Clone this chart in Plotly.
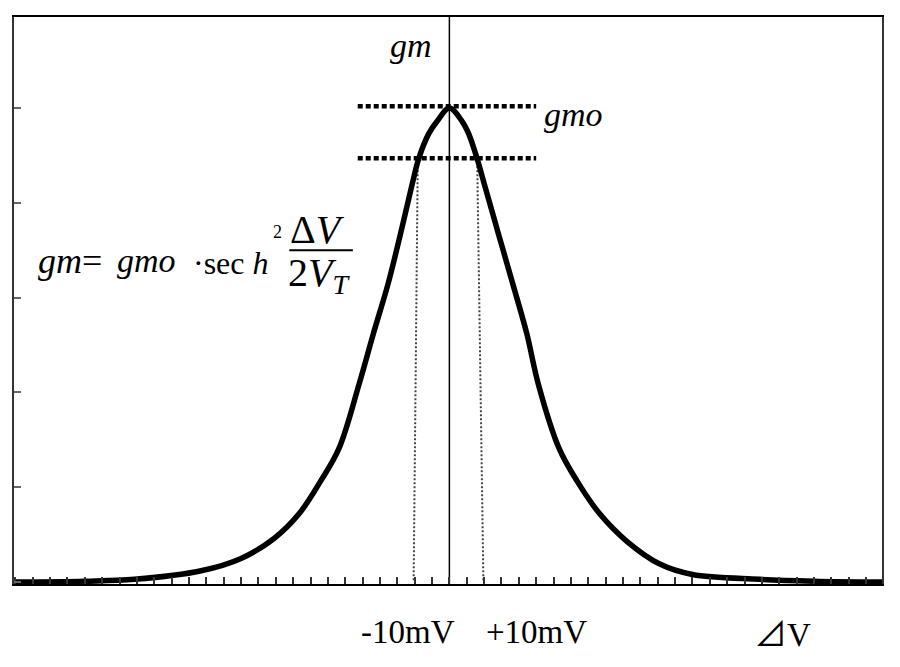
"""
gm - ΔV 특성 곡선 (차동 증폭기 트랜스컨덕턴스)
"""

import plotly.graph_objects as go

# ============================================================================
# 데이터 준비
# ============================================================================
# 곡선 위의 점들 (ΔV [mV], gm [임의 단위]) - 그림에서 읽은 값
dv_mv = [-125.4, -105, -90.7, -71.5, -60.0, -50.5, -43.3, -37.0, -31.8,
         -26.0, -21.9, -17.7, -14.1, -10.7, -8.81, -5.94, -3.53, 0,
         3.65, 5.54, 7.95, 10.05, 14.15, 18.3, 22.3, 25.6,
         31.6, 36.7, 43.3, 51.1, 60.6, 70.0, 89.3, 105, 124.6]
gm_val = [0.0, 0.01, 0.03, 0.12, 0.25, 0.46, 0.72, 1.07, 1.41,
          2.09, 2.62, 3.14, 3.67, 4.20, 4.47, 4.73, 4.86, 5.0,
          4.86, 4.73, 4.47, 4.20, 3.67, 3.14, 2.62, 2.09,
          1.41, 1.07, 0.72, 0.43, 0.19, 0.08, 0.03, 0.01, 0.0]

# 점선 기준선 (gmo, ±10mV 에서의 gm)
ref_levels = [5.02, 4.47]
ref_span = [-26.4, 25.0]

# ±10mV 점선 (위 끝, 아래 끝)
vline_top_x = [-9.1, 8.0]
vline_bottom_x = [-10.3, 9.8]
vline_top_y = 4.47

# 눈금 라벨
tick_labels = ['-10mV', '+10mV']
tick_label_x = [-11.8, 25.0]

SERIF = 'Liberation Serif, Times New Roman, serif'

# ============================================================================
# 차트 생성
# ============================================================================
fig = go.Figure()

# 가운데 세로축 (gm 축)
fig.add_trace(go.Scatter(
    x=[0, 0], y=[-0.02, 5.96], mode='lines',
    line=dict(color='black', width=1.5), hoverinfo='skip', showlegend=False,
))

# ±10mV 세로 점선
for xt, xb in zip(vline_top_x, vline_bottom_x):
    fig.add_trace(go.Scatter(
        x=[xt, xb], y=[vline_top_y, 0], mode='lines',
        line=dict(color='#444444', width=2, dash='2px,2px'),
        hoverinfo='skip', showlegend=False,
    ))

# 가로 점선 (gmo 및 ±10mV 레벨)
for lv in ref_levels:
    fig.add_trace(go.Scatter(
        x=ref_span, y=[lv, lv], mode='lines',
        line=dict(color='black', width=4.5, dash='5px,3px'),
        hoverinfo='skip', showlegend=False,
    ))

# gm 곡선
fig.add_trace(go.Scatter(
    x=dv_mv, y=gm_val, mode='lines',
    line=dict(color='black', width=5.5, shape='spline', smoothing=1.0),
    showlegend=False,
))

# ============================================================================
# 텍스트
# ============================================================================
def txt(x, y, s, size=34, yref='y'):
    fig.add_annotation(x=x, y=y, xref='x', yref=yref, text=s, showarrow=False,
                       font=dict(family=SERIF, size=size, color='black'),
                       xanchor='center', yanchor='middle')

txt(-11.0, 5.66, '<i>gm</i>')
txt(35.7, 4.93, '<i>gmo</i>')

# 수식 gm = gmo · sech²(ΔV / 2V_T)
txt(-109.3, 3.39, '<i>gm</i>=', size=36)
txt(-87.1, 3.39, '<i>gmo</i>')
txt(-63.0, 3.37, '·sec <i>h</i>', size=32)
txt(-49.5, 3.69, '2', size=18)
txt(-38.0, 3.72, 'Δ<i>V</i>', size=40)
txt(-37.5, 3.24, '2<i>V</i><sub><i>T</i></sub>', size=40)
fig.add_shape(type='line', x0=-46.1, x1=-27.8, y0=3.50, y1=3.50,
              line=dict(color='black', width=2))

# x 축 라벨 (축 범위 밖이라 y는 paper 기준)
for lab, lx in zip(tick_labels, tick_label_x):
    txt(lx, -0.085, lab, size=33, yref='paper')
txt(95.9, -0.085,
    '<span style="font-family:Noto Sans CJK JP">⊿</span>V',
    size=33, yref='paper')

# ============================================================================
# 레이아웃
# ============================================================================
fig.update_layout(
    width=884, height=652,
    margin=dict(l=6, r=10, t=9, b=76),
    paper_bgcolor='white', plot_bgcolor='white',
    showlegend=False,
)
fig.update_xaxes(
    range=[-125.4, 124.6], showgrid=False, zeroline=False,
    showline=True, linecolor='black', linewidth=2, mirror=True,
    ticks='inside', tick0=0, dtick=5, ticklen=7, tickwidth=1.5,
    tickcolor='#333333', showticklabels=False,
)
fig.update_yaxes(
    range=[-0.02, 5.96], showgrid=False, zeroline=False,
    showline=True, linecolor='#333333', linewidth=1.5, mirror=True,
    ticks='inside', tick0=0, dtick=1, ticklen=7, tickwidth=1.5,
    tickcolor='#666666', showticklabels=False,
)

fig.write_html('out.html')
